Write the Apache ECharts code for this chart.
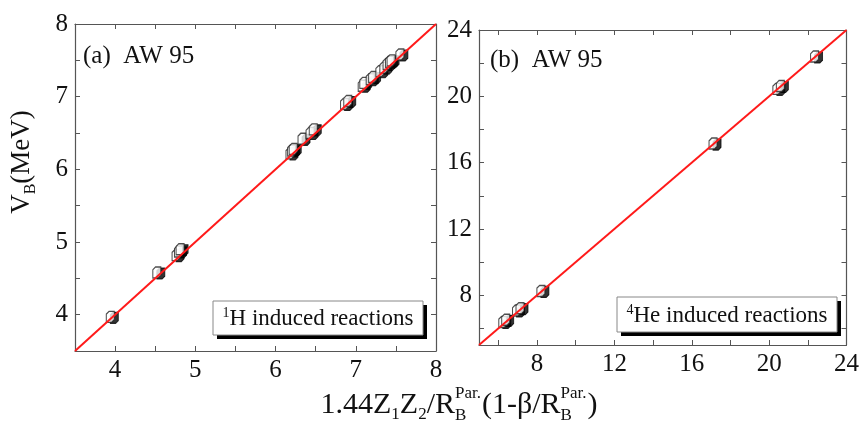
<!DOCTYPE html>
<html>
<head>
<meta charset="utf-8">
<script src="https://cdn.jsdelivr.net/npm/echarts@6/dist/echarts.min.js"></script>
<style>
  html, body { margin: 0; padding: 0; background: #fff; }
  #chart { width: 862px; height: 430px; }
</style>
</head>
<body>
<div id="chart"></div>
<script>
// (a) 1H induced reactions: [formula value, V_B]
var pointsH = [
  [3.94, 3.97], [4.52, 4.58], [4.76, 4.82], [4.79, 4.87], [4.81, 4.90],
  [6.18, 6.22], [6.20, 6.26], [6.22, 6.28], [6.33, 6.42], [6.43, 6.50],
  [6.47, 6.55], [6.86, 6.90], [6.90, 6.94], [7.08, 7.15], [7.10, 7.19],
  [7.18, 7.24], [7.21, 7.27], [7.30, 7.35], [7.35, 7.40], [7.39, 7.45],
  [7.42, 7.48], [7.44, 7.50], [7.55, 7.58]
]
// (b) 4He induced reactions
var pointsHe = [
  [6.23, 6.39], [6.38, 6.52], [6.94, 7.08], [7.12, 7.22], [8.20, 8.26],
  [17.10, 17.15], [20.40, 20.45], [20.58, 20.62], [22.35, 22.40]
]
// y = x reference lines
var lineH = [[3.5, 3.5], [8, 8]]
var lineHe = [[5, 5], [24, 24]]

// axes
var rangeH = [3.5, 8]
var rangeHe = [5, 24]
var labelsH = [4, 5, 6, 7, 8]
var ticksH = [3.5, 4, 4.5, 5, 5.5, 6, 6.5, 7, 7.5, 8]
var labelsHe = [8, 12, 16, 20, 24]
var ticksHe = [6, 8, 10, 12, 14, 16, 18, 20, 22, 24]

var SERIF = '"Liberation Serif", "DejaVu Serif", serif'
var openSymbol = 'path://M3,0 L9,0 L9,9 L6,12 L0,12 L0,3 Z'

function axis(grid, pos, range, ticks, labels, show) {
  return {
    type: 'value',
    gridIndex: grid,
    position: pos,
    min: range[0],
    max: range[1],
    axisLine: { show: true, onZero: false, lineStyle: { color: '#555', width: 1.2 } },
    axisTick: { show: true, inside: true, length: 5, customValues: ticks, lineStyle: { color: '#555' } },
    axisLabel: {
      show: show,
      customValues: labels,
      fontFamily: SERIF,
      fontSize: 25,
      color: '#111',
      margin: 7
    },
    splitLine: { show: false }
  }
}

function points(name, data, xi, filled) {
  return {
    name: name,
    type: 'scatter',
    xAxisIndex: xi,
    yAxisIndex: xi,
    data: data,
    symbol: openSymbol,
    symbolSize: [8, 11],
    symbolOffset: filled ? [4, 1] : [0, 0],
    itemStyle: filled
      ? { color: '#000', borderColor: '#000', borderWidth: 1 }
      : { color: '#fff', borderColor: '#222', borderWidth: 1.2 },
    z: 2
  }
}

function refLine(data, xi) {
  return {
    type: 'line',
    xAxisIndex: xi,
    yAxisIndex: xi,
    data: data,
    symbol: 'none',
    lineStyle: { color: '#ff1a1a', width: 2 },
    z: 3
  }
}

// x axis title with stacked super/subscripts, laid out with canvas text metrics
function xTitle() {
  var big = 30, small = 17
  var ctx = document.createElement('canvas').getContext('2d')
  function w(t, size) {
    ctx.font = size + 'px ' + SERIF
    return ctx.measureText(t).width
  }
  var parts = [
    ['1.44Z'], ['1', 'sub'], ['Z'], ['2', 'sub'], ['/R'], ['Par.', 'B'],
    ['(1-\u03b2/R'], ['Par.', 'B'], [')']
  ]
  var total = 0
  parts.forEach(function (p) {
    if (p.length === 1) total += w(p[0], big)
    else if (p[1] === 'sub') total += w(p[0], small)
    else total += Math.max(w(p[0], small), w(p[1], small)) + 1
  })
  var x = 459 - total / 2
  var base = 405
  var els = []
  function txt(t, px, py, size) {
    els.push({
      type: 'text', x: px, y: py,
      style: { text: t, font: size + 'px ' + SERIF, fill: '#111', verticalAlign: 'middle' }
    })
  }
  parts.forEach(function (p) {
    if (p.length === 1) {
      txt(p[0], x, base, big)
      x += w(p[0], big)
    } else if (p[1] === 'sub') {
      txt(p[0], x, base + 10, small)
      x += w(p[0], small)
    } else {
      txt(p[0], x, base - 11, small)
      txt(p[1], x, base + 11, small)
      x += Math.max(w(p[0], small), w(p[1], small)) + 1
    }
  })
  return els
}

function legendBox(x, y, w, h, text) {
  return [
    { type: 'rect', shape: { x: x + 4, y: y + 4, width: w, height: h }, style: { fill: '#000' } },
    { type: 'rect', shape: { x: x, y: y, width: w, height: h }, style: { fill: '#fff', stroke: '#888', lineWidth: 1 } },
    {
      type: 'text', x: x + w / 2, y: y + h / 2 + 1,
      style: {
        text: text, align: 'center', verticalAlign: 'middle',
        font: '23px ' + SERIF, fill: '#111',
        rich: {
          sup: { fontSize: 14, fontFamily: SERIF, verticalAlign: 'top', lineHeight: 25, fill: '#111' },
          m: { fontSize: 23, fontFamily: SERIF, lineHeight: 25, fill: '#111' }
        }
      }
    }
  ]
}

var chart = echarts.init(document.getElementById('chart'))
chart.setOption({
  animation: false,
  backgroundColor: '#fff',
  grid: [
    { left: 75, top: 24, width: 361, height: 327 },
    { left: 479, top: 30, width: 370, height: 315 }
  ],
  xAxis: [
    axis(0, 'bottom', rangeH, ticksH, labelsH, true),
    axis(0, 'top', rangeH, ticksH, labelsH, false),
    axis(1, 'bottom', rangeHe, ticksHe, labelsHe, true),
    axis(1, 'top', rangeHe, ticksHe, labelsHe, false)
  ],
  yAxis: [
    axis(0, 'left', rangeH, ticksH, labelsH, true),
    axis(0, 'right', rangeH, ticksH, labelsH, false),
    axis(1, 'left', rangeHe, ticksHe, labelsHe, true),
    axis(1, 'right', rangeHe, ticksHe, labelsHe, false)
  ],
  series: [
    points('1H filled', pointsH, 0, true),
    points('1H', pointsH, 0, false),
    refLine(lineH, 0),
    points('4He filled', pointsHe, 2, true),
    points('4He', pointsHe, 2, false),
    refLine(lineHe, 2)
  ],
  graphic: [
    { type: 'text', x: 83, y: 56, style: { text: '(a)  AW 95', font: '25px ' + SERIF, fill: '#111', verticalAlign: 'middle' } },
    { type: 'text', x: 490, y: 60, style: { text: '(b)  AW 95', font: '25px ' + SERIF, fill: '#111', verticalAlign: 'middle' } },
    {
      type: 'text', x: 22, y: 162, rotation: Math.PI / 2,
      style: {
        text: '{m|V}{s|B}{m|(MeV)}', align: 'center', verticalAlign: 'middle',
        rich: {
          m: { fontSize: 27, fontFamily: SERIF, lineHeight: 34, fill: '#111' },
          s: { fontSize: 16, fontFamily: SERIF, lineHeight: 34, verticalAlign: 'bottom', fill: '#111' }
        }
      }
    }
  ].concat(
    legendBox(213, 301, 210, 34, '{sup|1}{m|H induced reactions}'),
    legendBox(617, 297, 220, 35, '{sup|4}{m|He induced reactions}'),
    xTitle()
  )
})
</script>
</body>
</html>
